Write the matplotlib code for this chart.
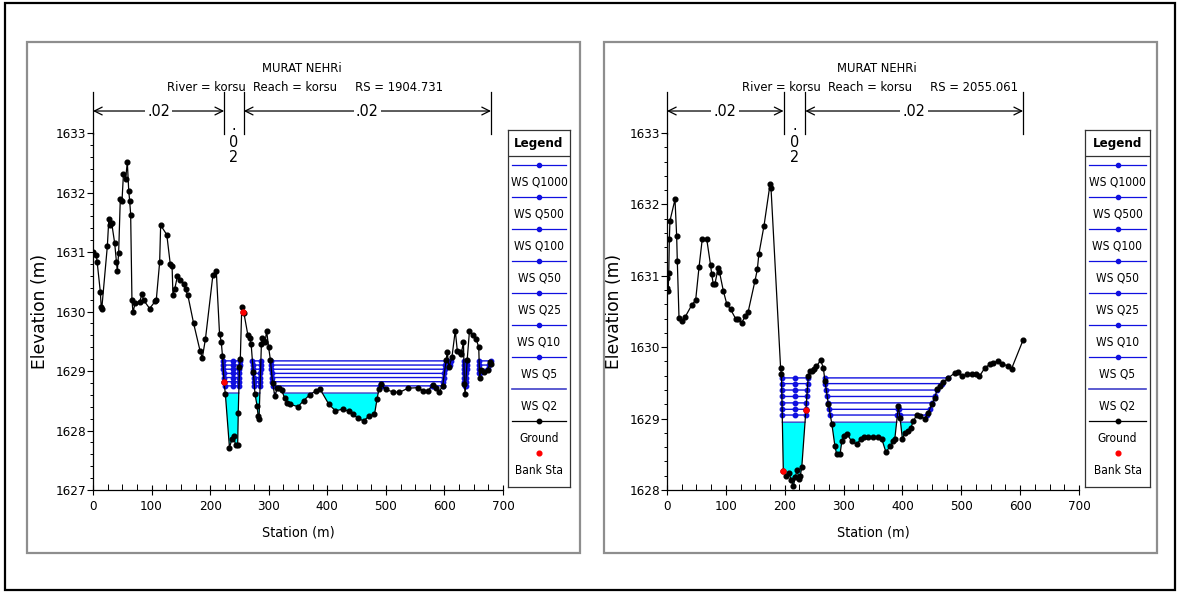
import numpy as np
import matplotlib
matplotlib.use("Agg")
import matplotlib.pyplot as plt
import matplotlib.transforms as mtransforms
from matplotlib.patches import Rectangle
from matplotlib import font_manager

# ---------------- data ----------------
profile_names = ["WS Q1000", "WS Q500", "WS Q100", "WS Q50", "WS Q25", "WS Q10", "WS Q5", "WS Q2"]
legend_extra = ["Ground", "Bank Sta"]
river_title = "MURAT NEHRi"

# left cross-section (RS = 1904.731)
left_rs = "1904.731"
left_station = [0, 5.7, 7, 12.5, 14, 15, 24.5, 27, 29.6, 32, 37, 40, 41.5, 43.8, 46.6,
                49.5, 52, 55.7, 58.6, 61, 62.6, 64.3, 66.5, 68.3, 72, 79.6, 83.6, 86.5, 96.7,
                106, 108, 113.8, 115.5, 126, 132, 135, 136.5, 139.4, 144, 148, 154.7, 158, 162,
                171.8, 183, 186.6, 192, 204.8, 210.5, 216, 219, 221, 223.7, 226, 233, 237, 240,
                243.5, 247, 248, 250, 251.5, 254, 256, 257.7, 264.5, 267.3, 270, 273.5, 276.5,
                280, 282, 283.5, 287.5, 289, 292, 294, 296.4, 299.8, 303, 306.5, 310.5, 314.5,
                318, 322, 327, 331, 336.7, 350, 359.5, 370, 381, 388, 402.7, 414, 426.6, 437,
                443.7, 452, 461.9, 471, 480.6, 485, 488, 491, 499.4, 512, 523, 537.5, 554.6, 563,
                571.7, 580, 585, 590.4, 597, 603, 604.8, 607.7, 612.8, 618.5, 622, 626, 628.6,
                632.5, 634, 635.3, 638.8, 642.8, 648.5, 654, 658.6, 660, 662.7, 668.4, 674, 678, 680]
left_elev = [1631.00, 1630.95, 1630.84, 1630.33, 1630.08, 1630.05, 1631.10, 1631.55, 1631.45,
             1631.48, 1631.15, 1630.83, 1630.68, 1630.99, 1631.89, 1631.86, 1632.31, 1632.23,
             1632.51, 1632.03, 1631.86, 1631.63, 1630.19, 1629.99, 1630.14, 1630.16, 1630.29,
             1630.19, 1630.05, 1630.17, 1630.19, 1630.83, 1631.45, 1631.29, 1630.79, 1630.77,
             1630.28, 1630.37, 1630.59, 1630.53, 1630.47, 1630.37, 1630.27, 1629.80, 1629.33,
             1629.22, 1629.54, 1630.62, 1630.68, 1629.63, 1629.49, 1629.26, 1628.82, 1628.61,
             1627.71, 1627.85, 1627.90, 1627.75, 1627.76, 1628.30, 1629.06, 1629.20, 1630.08,
             1629.99, 1629.97, 1629.60, 1629.56, 1629.45, 1628.99, 1628.62, 1628.42, 1628.24,
             1628.20, 1629.45, 1629.56, 1629.50, 1629.49, 1629.68, 1629.40, 1629.18, 1628.80,
             1628.58, 1628.71, 1628.72, 1628.68, 1628.55, 1628.47, 1628.44, 1628.40, 1628.50,
             1628.60, 1628.67, 1628.69, 1628.44, 1628.33, 1628.36, 1628.32, 1628.27, 1628.21,
             1628.16, 1628.24, 1628.27, 1628.53, 1628.69, 1628.78, 1628.69, 1628.65, 1628.64,
             1628.71, 1628.72, 1628.67, 1628.67, 1628.76, 1628.72, 1628.64, 1628.75, 1629.18,
             1629.32, 1629.06, 1629.23, 1629.68, 1629.34, 1629.32, 1629.28, 1629.49, 1628.78,
             1628.61, 1629.18, 1629.68, 1629.60, 1629.54, 1629.40, 1628.89, 1629.01, 1628.98,
             1629.01, 1629.15, 1629.12]
left_bank_sta = [223.7, 256.0]
left_bank_elev = [1628.82, 1629.99]
left_ws = [1629.17, 1629.10, 1629.03, 1628.96, 1628.89, 1628.82, 1628.75]   # Q1000 .. Q5
left_ws_q2 = 1628.63
left_n_breaks = [0, 223.9, 257.5, 679.5]
left_n_values = [".02", ".02", ".02"]

# right cross-section (RS = 2055.061)
right_rs = "2055.061"
right_station = [0, 0.8, 2, 3, 4, 5, 13.6, 16.4, 17.5, 20.4, 25, 30.6, 42, 48.7, 54.4, 60,
                 67.4, 74, 76, 78.7, 81.5, 87, 89, 95.7, 101.4, 108, 116.6, 121, 126.8, 132.5,
                 138, 149.5, 153.5, 156, 164.8, 175, 176.7, 193, 194.5, 197.6, 203, 207, 211,
                 214.5, 218, 221, 224, 226.5, 229, 236, 240, 242.6, 245.8, 249.7, 254, 261,
                 265.6, 268.5, 274, 280, 285.4, 288.3, 294, 297, 301, 306.3, 313.7, 322, 329,
                 334.6, 342, 350.5, 359, 364.7, 372, 378.8, 384.5, 387, 393, 396, 400, 404, 410,
                 414, 418.5, 424, 430, 438, 444, 449.6, 455, 459, 463.8, 469.4, 478, 489, 494,
                 500.5, 509, 517.6, 525, 530.6, 540, 548.7, 554.4, 563, 570, 580, 585.5, 605]
right_elev = [1630.97, 1630.83, 1630.79, 1631.04, 1631.52, 1631.77, 1632.07, 1631.56, 1631.21,
              1630.41, 1630.36, 1630.42, 1630.59, 1630.66, 1631.12, 1631.52, 1631.52, 1631.15,
              1631.02, 1630.88, 1630.89, 1631.11, 1631.06, 1630.79, 1630.61, 1630.53, 1630.40,
              1630.39, 1630.34, 1630.43, 1630.50, 1630.93, 1631.09, 1631.30, 1631.70, 1632.28,
              1632.23, 1629.71, 1629.62, 1628.27, 1628.20, 1628.24, 1628.14, 1628.05, 1628.18,
              1628.28, 1628.15, 1628.20, 1628.32, 1629.12, 1629.59, 1629.66, 1629.67, 1629.69,
              1629.73, 1629.82, 1629.71, 1629.52, 1629.21, 1628.93, 1628.61, 1628.50, 1628.50,
              1628.68, 1628.76, 1628.78, 1628.68, 1628.64, 1628.71, 1628.74, 1628.74, 1628.74,
              1628.74, 1628.72, 1628.53, 1628.61, 1628.68, 1628.71, 1629.17, 1629.01, 1628.71,
              1628.80, 1628.82, 1628.87, 1628.96, 1629.05, 1629.03, 1629.00, 1629.08, 1629.20,
              1629.29, 1629.41, 1629.45, 1629.51, 1629.57, 1629.64, 1629.65, 1629.59, 1629.62,
              1629.62, 1629.62, 1629.59, 1629.71, 1629.76, 1629.78, 1629.81, 1629.77, 1629.73,
              1629.70, 1630.10]
right_bank_sta = [197.6, 236.0]
right_bank_elev = [1628.27, 1629.12]
right_ws = [1629.57, 1629.49, 1629.40, 1629.31, 1629.22, 1629.13, 1629.05]  # Q1000 .. Q5
right_ws_q2 = 1628.95
right_n_breaks = [0, 198.0, 235.0, 605.0]
right_n_values = [".02", ".02", ".02"]

x_ticks = [0, 100, 200, 300, 400, 500, 600, 700]
left_y_ticks = [1627, 1628, 1629, 1630, 1631, 1632, 1633]
right_y_ticks = [1628, 1629, 1630, 1631, 1632, 1633]

# ---------------- style ----------------
entries = font_manager.fontManager.ttflist
names = {f.name for f in entries}
SC = 1.0
if "Liberation Sans Narrow" in names:
    plt.rcParams["font.family"] = ["Liberation Sans Narrow", "DejaVu Sans"]
    SC = 1.08
elif any(f.name == "DejaVu Sans" and str(f.stretch) in ("condensed", "semi-condensed")
         for f in entries):
    plt.rcParams["font.family"] = ["DejaVu Sans"]
    plt.rcParams["font.stretch"] = "condensed"
    SC = 1.0
else:
    plt.rcParams["font.family"] = ["Liberation Sans", "DejaVu Sans"]
    SC = 0.9

WS_COLOR = "#1010e0"
Q2_COLOR = "#4040c8"
FILL_COLOR = "#00ffff"

W, H = 1179, 593
fig = plt.figure(figsize=(W / 100, H / 100), dpi=100)


def fx(px):
    return px / W


def fy(py):
    return 1 - py / H


def draw_panel(ax_rect, leg_rect, station, elev, bank_sta, bank_elev, ws_levels, ws_q2,
               n_breaks, n_values, rs, ylim, yticks):
    ax = fig.add_axes(ax_rect)
    st = np.array(station, float)
    el = np.array(elev, float)
    xs = np.linspace(st[0], st[-1], 6000)
    g = np.interp(xs, st, el)

    # Q2 fill + line
    ax.fill_between(xs, g, ws_q2, where=g < ws_q2, color=FILL_COLOR, lw=0,
                    interpolate=True, zorder=1)
    ax.plot(xs, np.where(g < ws_q2, ws_q2, np.nan), color=Q2_COLOR, lw=1.0, zorder=2)

    mid = 0.5 * (bank_sta[0] + bank_sta[1])
    for w in ws_levels:
        mask = g < w
        ax.plot(xs, np.where(mask, w, np.nan), color=WS_COLOR, lw=1.0, zorder=2)
        d = np.diff(mask.astype(int))
        starts = list(np.where(d == 1)[0] + 1)
        ends = list(np.where(d == -1)[0])
        if mask[0]:
            starts = [0] + starts
        if mask[-1]:
            ends = ends + [len(xs) - 1]
        mx = [xs[i] for i in starts] + [xs[i] for i in ends]
        if np.interp(mid, xs, g) < w:
            mx.append(mid)
        ax.plot(mx, [w] * len(mx), "o", color=WS_COLOR, ms=3.2, zorder=3)

    ax.plot(st, el, "-", color="black", lw=0.9, marker="o", ms=3.4, zorder=4)
    ax.plot(bank_sta, bank_elev, "o", color="red", ms=3.6, zorder=5)

    ax.set_xlim(0, 700)
    ax.set_ylim(*ylim)
    ax.set_xticks(x_ticks)
    ax.set_yticks(yticks)
    ax.set_xticks(np.arange(0, 701, 25), minor=True)
    ax.set_yticks(np.arange(ylim[0], ylim[1] + 0.001, 0.2), minor=True)
    for s in ["top", "right"]:
        ax.spines[s].set_visible(False)
    for s in ["left", "bottom"]:
        ax.spines[s].set_linewidth(0.9)
    ax.tick_params(axis="y", which="major", direction="out", length=4, width=0.8,
                   labelsize=9.6 * SC, pad=1)
    ax.tick_params(axis="y", which="minor", direction="out", length=2.5, width=0.7)
    ax.tick_params(axis="x", which="major", direction="inout", length=7, width=0.8,
                   labelsize=9.6 * SC, pad=4)
    ax.tick_params(axis="x", which="minor", direction="in", length=4, width=0.7)
    ax.set_xlabel("Station (m)", fontsize=10.4 * SC)
    ax.set_ylabel("Elevation (m)", fontsize=12.3 * SC, fontstretch="normal")
    ax.xaxis.set_label_coords(0.5, -0.10)
    ax.yaxis.set_label_coords(-0.108, 0.5)

    # titles
    ax.text(0.51, 1.182, river_title, transform=ax.transAxes, ha="center", va="center",
            fontsize=9.3 * SC)
    ax.text(0.517, 1.128, "River = korsu  Reach = korsu     RS = " + rs,
            transform=ax.transAxes, ha="center", va="center", fontsize=9.3 * SC)

    # Manning's n annotations
    tr = mtransforms.blended_transform_factory(ax.transData, ax.transAxes)
    y_arrow = 1.0616
    for b in n_breaks:
        ax.plot([b, b], [0.997, 1.115], color="black", lw=0.9, transform=tr, clip_on=False)
    for i, nv in enumerate(n_values):
        a, b = n_breaks[i], n_breaks[i + 1]
        c = 0.5 * (a + b)
        if b - a > 60:
            ax.annotate("", xy=(a, y_arrow), xytext=(b, y_arrow), xycoords=tr, textcoords=tr,
                        arrowprops=dict(arrowstyle="<->", lw=0.9, color="black",
                                        mutation_scale=14, shrinkA=0, shrinkB=0),
                        annotation_clip=False)
            ax.text(c, y_arrow, nv, transform=tr, ha="center", va="center", fontsize=11.5 * SC,
                    bbox=dict(boxstyle="square,pad=0.15", fc="white", ec="none"))
        else:
            for k, (ch, yb) in enumerate(zip(nv, [1.0084, 0.9608, 0.9188])):
                ax.text(c, yb, ch, transform=tr, ha="center", va="baseline",
                        fontsize=11.5 * SC)

    # legend drawn as a box
    lax = fig.add_axes(leg_rect)
    lax.set_xlim(0, 62)
    lax.set_ylim(357, 0)
    lax.set_xticks([])
    lax.set_yticks([])
    for s in lax.spines.values():
        s.set_linewidth(0.9)
        s.set_color("#333333")
    lax.text(31, 13, "Legend", ha="center", va="center", fontsize=9.5 * SC,
             fontweight="bold")
    lax.plot([0, 62], [26, 26], color="#333333", lw=0.9)
    for i, name in enumerate(profile_names + legend_extra):
        yl = 35 + 32 * i
        if name == "WS Q2":
            lax.plot([4, 58], [yl, yl], color=Q2_COLOR, lw=1.2)
        elif name == "Ground":
            lax.plot([4, 58], [yl, yl], color="black", lw=0.9)
            lax.plot([31], [yl], "o", color="black", ms=3.2)
        elif name == "Bank Sta":
            lax.plot([31], [yl], "o", color="red", ms=3.4)
        else:
            lax.plot([4, 58], [yl, yl], color=WS_COLOR, lw=0.9)
            lax.plot([31], [yl], "o", color=WS_COLOR, ms=3.0)
        lax.text(31, yl + 17, name, ha="center", va="center", fontsize=8.6 * SC)
    return ax


draw_panel([fx(93), fy(490), 410 / W, 357 / H], [fx(508), fy(487), 62 / W, 357 / H],
           left_station, left_elev, left_bank_sta, left_bank_elev, left_ws, left_ws_q2,
           left_n_breaks, left_n_values, left_rs, (1627, 1633), left_y_ticks)
draw_panel([fx(667), fy(490), 412 / W, 357 / H], [fx(1085), fy(487), 65 / W, 357 / H],
           right_station, right_elev, right_bank_sta, right_bank_elev, right_ws, right_ws_q2,
           right_n_breaks, right_n_values, right_rs, (1628, 1633), right_y_ticks)

# panel frames and outer frame
for x0, x1 in [(27, 580), (604, 1157)]:
    fig.patches.append(Rectangle((fx(x0), fy(553)), (x1 - x0) / W, (553 - 42) / H,
                                 transform=fig.transFigure, fill=False, ec="#8e8e8e",
                                 lw=1.6))
fig.patches.append(Rectangle((fx(5), fy(590)), 1170 / W, 587 / H, transform=fig.transFigure,
                             fill=False, ec="black", lw=1.6))

fig.savefig("out.png", dpi=100)
